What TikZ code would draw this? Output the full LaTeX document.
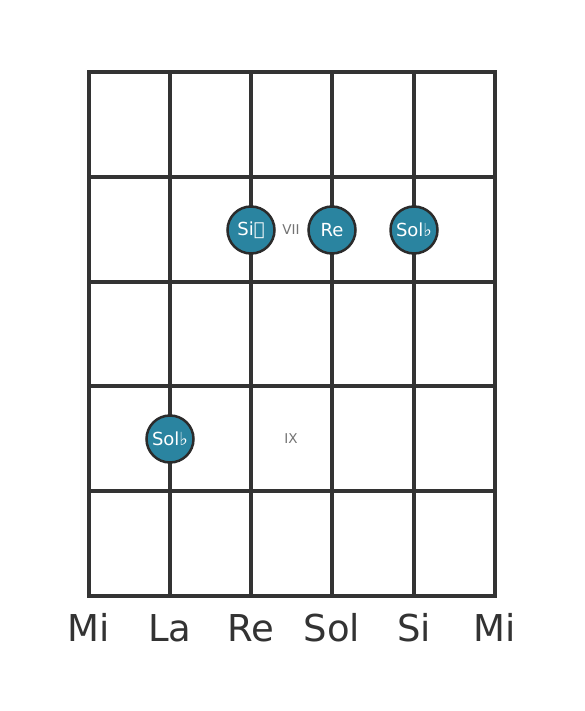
\documentclass[tikz,border=0pt]{standalone}
\usepackage{fontspec}
\setmainfont{DejaVu Sans}
\begin{document}
\begin{tikzpicture}[x=1pt,y=-1pt,
  fret/.style={line width=4.5pt,draw=black!80},
  string/.style={line width=3.2pt,draw=black!80},
  note/.style={circle,fill=notefill,draw=black!83,line width=2.5pt,minimum size=47pt,inner sep=0pt,text=white,font=\fontsize{18}{18}\selectfont},
  fretnum/.style={text=black!55,font=\fontsize{13.5}{13.5}\selectfont},
  strlabel/.style={text=black!80,font=\fontsize{37}{37}\selectfont,anchor=base}]
\definecolor{notefill}{HTML}{2A84A0}
\useasboundingbox (0,0) rectangle (584,711);
\fill[white] (0,0) rectangle (584,711);
% strings
\foreach \x/\n in {89/s1,170/s2,251/s3,332/s4,414/s5,495/s6}{
  \coordinate (\n t) at (\x,72);
  \coordinate (\n b) at (\x,596);
  \draw[string] (\n t) -- (\n b);
}
% frets
\foreach \y/\n in {72/f0,177/f1,282/f2,386/f3,491/f4,596/f5}{
  \coordinate (\n l) at (87.4,\y);
  \coordinate (\n r) at (496.6,\y);
  \draw[fret] (\n l) -- (\n r);
}
% fret numbers
\node[fretnum] (vii) at (291,230) {VII};
\node[fretnum] (ix) at (291,439) {IX};
% notes
\node[note] (n1) at (251,230) {Si𝄫};
\node[note] (n2) at (332,230) {Re};
\node[note] (n3) at (414,230) {Sol♭};
\node[note] (n4) at (170,439) {Sol♭};
% string labels
\node[strlabel] (l1) at (89,641) {Mi};
\node[strlabel] (l2) at (170,641) {La};
\node[strlabel] (l3) at (251,641) {Re};
\node[strlabel] (l4) at (332,641) {Sol};
\node[strlabel] (l5) at (414,641) {Si};
\node[strlabel] (l6) at (495,641) {Mi};
\end{tikzpicture}
\end{document}
